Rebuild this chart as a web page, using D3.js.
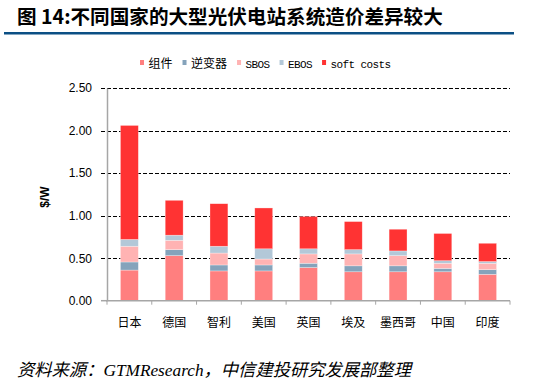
<!DOCTYPE html>
<html>
<head>
<meta charset="utf-8">
<script src="https://cdn.jsdelivr.net/npm/d3@7"></script>
<style>
  body { margin: 0; background: #fff; }
  svg { display: block; }
</style>
</head>
<body>
<div class="chart"></div>
<script>
// data ($/W)
var countries = ["日本", "德国", "智利", "美国", "英国", "埃及", "墨西哥", "中国", "印度"];
var seriesNames = ["组件", "逆变器", "SBOS", "EBOS", "soft costs"];
var module_ = [0.36, 0.53, 0.35, 0.35, 0.39, 0.34, 0.34, 0.34, 0.31];
var inverter = [0.095, 0.07, 0.07, 0.07, 0.05, 0.07, 0.07, 0.04, 0.055];
var sbos = [0.185, 0.11, 0.14, 0.07, 0.11, 0.14, 0.12, 0.06, 0.075];
var ebos = [0.08, 0.06, 0.08, 0.12, 0.06, 0.05, 0.055, 0.03, 0.02];
var softCosts = [1.34, 0.41, 0.50, 0.48, 0.38, 0.33, 0.255, 0.32, 0.215];
var yTicks = [0, 0.5, 1.0, 1.5, 2.0, 2.5];

var colors = ["#ff7f7f", "#85a3bb", "#ffb3b3", "#b3c8d8", "#ff3333"];

var width = 543, height = 389;
var svg = d3.select(".chart").append("svg")
    .attr("width", width)
    .attr("height", height);

// title + rule
svg.append("text")
    .attr("x", 17).attr("y", 23.5)
    .attr("font-family", "'Noto Sans CJK SC', sans-serif")
    .attr("font-weight", "bold")
    .attr("font-size", 19.6)
    .attr("fill", "#000")
    .text("图 14:不同国家的大型光伏电站系统造价差异较大");
svg.append("rect")
    .attr("x", 4).attr("y", 32)
    .attr("width", 510).attr("height", 2.5)
    .attr("fill", "#0b4f84");

var table = countries.map(function (c, i) {
    return { country: c, "组件": module_[i], "逆变器": inverter[i], "SBOS": sbos[i], "EBOS": ebos[i], "soft costs": softCosts[i] };
});
var stacked = d3.stack().keys(seriesNames)(table);

var x = d3.scaleBand()
    .domain(countries)
    .range([107, 510])
    .paddingInner(0.6)
    .paddingOuter(0.3);
var y = d3.scaleLinear()
    .domain([0, 2.5])
    .range([300.7, 88]);

// dashed grid lines (with the tick stubs left of the axis)
svg.append("g")
    .selectAll("line")
    .data(yTicks.filter(function (d) { return d > 0; }))
    .enter()
    .append("line")
    .attr("x1", 101).attr("x2", 510)
    .attr("y1", function (d) { return Math.round(y(d)) + 0.5; })
    .attr("y2", function (d) { return Math.round(y(d)) + 0.5; })
    .attr("stroke", "#000")
    .attr("stroke-width", 1)
    .attr("stroke-dasharray", "4,2");

// bars
svg.append("g")
    .selectAll("g")
    .data(stacked)
    .enter()
    .append("g")
    .attr("fill", function (d, i) { return colors[i]; })
    .selectAll("rect")
    .data(function (d) { return d; })
    .enter()
    .append("rect")
    .attr("x", function (d) { return x(d.data.country); })
    .attr("width", x.bandwidth())
    .attr("y", function (d) { return y(d[1]); })
    .attr("height", function (d) { return y(d[0]) - y(d[1]); })
    .attr("stroke", "#fff")
    .attr("stroke-opacity", 0.5)
    .attr("stroke-width", 0.6);

// y axis
var yAxis = svg.append("g")
    .attr("transform", "translate(107,0)")
    .call(d3.axisLeft(y).tickValues(yTicks).tickFormat(d3.format(".2f")).tickSize(0).tickPadding(15));
yAxis.select(".domain").attr("stroke", "#a6a6a6").attr("stroke-width", 1.5);
yAxis.selectAll("text")
    .attr("font-family", "'Liberation Sans', Arial, sans-serif")
    .attr("font-size", 12)
    .attr("fill", "#000");
svg.append("line")
    .attr("x1", 101).attr("x2", 107)
    .attr("y1", y(0)).attr("y2", y(0))
    .attr("stroke", "#a6a6a6").attr("stroke-width", 1.5);

// x axis
svg.append("line")
    .attr("x1", 106).attr("x2", 510)
    .attr("y1", y(0)).attr("y2", y(0))
    .attr("stroke", "#a6a6a6").attr("stroke-width", 1.5);
var step = x.step();
svg.append("g")
    .selectAll("line")
    .data(d3.range(countries.length + 1))
    .enter()
    .append("line")
    .attr("x1", function (i) { return 107 + i * step; })
    .attr("x2", function (i) { return 107 + i * step; })
    .attr("y1", y(0)).attr("y2", y(0) + 4)
    .attr("stroke", "#a6a6a6").attr("stroke-width", 1);
svg.append("g")
    .selectAll("text")
    .data(countries)
    .enter()
    .append("text")
    .attr("x", function (d) { return x(d) + x.bandwidth() / 2; })
    .attr("y", 327)
    .attr("text-anchor", "middle")
    .attr("font-family", "'Noto Sans CJK SC', sans-serif")
    .attr("font-size", 12)
    .attr("fill", "#000")
    .text(function (d) { return d; });

// y label
svg.append("text")
    .attr("transform", "translate(49,197) rotate(-90)")
    .attr("text-anchor", "middle")
    .attr("font-family", "'Liberation Sans', Arial, sans-serif")
    .attr("font-weight", "bold")
    .attr("font-size", 12)
    .text("$/W");

// legend
var legend = svg.append("g").attr("transform", "translate(140,0)");
var lx = 0;
seriesNames.forEach(function (name, i) {
    var latin = /^[\x00-\x7f]+$/.test(name);
    var item = legend.append("g").attr("transform", "translate(" + lx + ",0)");
    item.append("rect")
        .attr("x", 0).attr("y", 60)
        .attr("width", 4).attr("height", 5)
        .attr("fill", colors[i]);
    var t = item.append("text")
        .attr("x", 8.5).attr("y", 68)
        .attr("font-family", latin ? "'Liberation Mono', monospace" : "'Noto Sans CJK SC', sans-serif")
        .attr("font-size", latin ? 11 : 12)
        .attr("letter-spacing", latin ? -0.6 : 0)
        .attr("fill", "#000")
        .text(name);
    lx += 8.5 + t.node().getComputedTextLength() + 10;
});

// source note
svg.append("text")
    .attr("x", 17).attr("y", 376)
    .attr("font-family", "'Liberation Serif', 'Noto Sans CJK SC', serif")
    .attr("font-style", "italic")
    .attr("font-size", 17.3)
    .attr("fill", "#000")
    .text("资料来源：GTMResearch，中信建投研究发展部整理");
</script>
</body>
</html>
